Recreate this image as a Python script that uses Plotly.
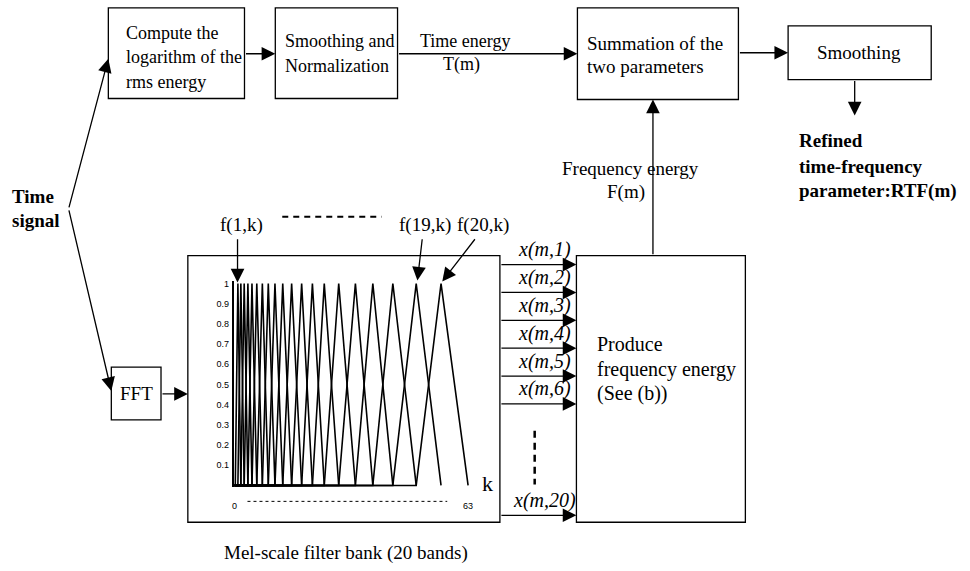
import plotly.graph_objects as go

# ---------------- data ----------------
# Mel filter bank edge frequencies (bin index k); filter i spans edges[i]..edges[i+2], peak at edges[i+1]
filter_edges = [0.2, 0.9, 1.7, 2.6, 3.6, 4.7, 6.0, 7.5, 9.1, 10.9, 13.0, 15.4,
                18.1, 21.0, 24.2, 28.1, 32.6, 37.3, 42.7, 49.0, 55.7, 63.0]
y_tick_vals = [0.1, 0.2, 0.3, 0.4, 0.5, 0.6, 0.7, 0.8, 0.9, 1.0]
y_tick_text = ["0.1", "0.2", "0.3", "0.4", "0.5", "0.6", "0.7", "0.8", "0.9", "1"]
k_tick_vals = [0, 63]
k_tick_text = ["0", "63"]
channel_labels = ["x(m,1)", "x(m,2)", "x(m,3)", "x(m,4)", "x(m,5)", "x(m,6)", "x(m,20)"]

W, H = 970, 571
SERIF = "Liberation Serif"
LW = 1.3

fig = go.Figure()
# anchor trace for the full-canvas axes
fig.add_trace(go.Scatter(x=[None], y=[None], xaxis="x", yaxis="y", showlegend=False, hoverinfo="skip"))

# filter bank triangles
for i in range(20):
    a, p, b = filter_edges[i], filter_edges[i + 1], filter_edges[i + 2]
    fig.add_trace(go.Scatter(x=[0, a, p, b], y=[0, 0, 1, 0], mode="lines",
                             line=dict(color="black", width=1.6), xaxis="x2", yaxis="y2",
                             showlegend=False, hoverinfo="skip"))

shapes = []
def rect(x0, y0, x1, y1):
    shapes.append(dict(type="rect", xref="x", yref="y", x0=x0, y0=y0, x1=x1, y1=y1,
                       line=dict(color="black", width=LW), fillcolor="rgba(0,0,0,0)"))
def line(x0, y0, x1, y1, dash="solid", width=LW):
    shapes.append(dict(type="line", xref="x", yref="y", x0=x0, y0=y0, x1=x1, y1=y1,
                       line=dict(color="black", width=width, dash=dash)))

rect(107, 5, 244, 96)      # log rms
rect(275, 5, 398, 96)      # smoothing & normalization
rect(579, 5, 741, 97)      # summation
rect(791, 23, 935, 77)     # smoothing
rect(110, 366, 160, 419)   # FFT
rect(187, 254, 501, 522)   # filter bank frame
rect(578, 254, 748, 522)   # produce frequency energy

line(282, 215, 382, 215, dash="6px,5px", width=2)   # f(1,k) ... f(19,k)
line(536, 430, 536, 484, dash="7px,5px", width=2.5)  # x(m,7)...x(m,19)
line(247, 501, 448, 501, dash="dot", width=1)        # k axis dotted

annotations = []
def arrow(x0, y0, x1, y1):
    annotations.append(dict(x=x1, y=y1, ax=x0, ay=y0, xref="x", yref="y", axref="x", ayref="y",
                            text="", showarrow=True, arrowhead=2, arrowsize=2.1,
                            arrowwidth=LW, arrowcolor="black", standoff=0))
def text(x, y, s, size=18, anchor="left", bold=False, italic=False):
    if bold:
        s = "<b>" + s + "</b>"
    if italic:
        s = "<i>" + s + "</i>"
    annotations.append(dict(x=x, y=y, xref="x", yref="y", text=s, showarrow=False,
                            xanchor=anchor, yanchor="middle",
                            font=dict(family=SERIF, size=size, color="black")))

# arrows
arrow(67, 207, 107, 56)
arrow(67, 207, 110, 390)
arrow(244, 51, 275, 51)
arrow(398, 51, 579, 51)
arrow(741, 50, 791, 50)
arrow(858, 77, 858, 113)
arrow(655, 254, 655, 97)
arrow(160, 393, 187, 393)
arrow(237, 236, 237, 281)
arrow(423, 236, 418, 279)
arrow(477, 236, 443, 280)
chan_y = [263, 291, 319, 347, 375, 403, 515]
for lab, yy in zip(channel_labels, chan_y):
    arrow(501, yy, 578, yy)
    text(546, yy - 15, lab, size=20, anchor="center", italic=True)

# texts
text(123, 30, "Compute the", 18)
text(123, 54, "logarithm of the", 18)
text(123, 79, "rms energy", 18)
text(283, 38, "Smoothing and", 18)
text(283, 63, "Normalization", 18)
text(466, 38, "Time energy", 18, anchor="center")
text(462, 62, "T(m)", 18, anchor="center")
text(587, 41, "Summation of the", 19)
text(587, 64, "two parameters", 19)
text(862, 50, "Smoothing", 19, anchor="center")
text(800, 138, "Refined", 19, bold=True)
text(800, 164, "time-frequency", 19, bold=True)
text(800, 189, "parameter:RTF(m)", 19, bold=True)
text(632, 166, "Frequency energy", 19, anchor="center")
text(628, 190, "F(m)", 19, anchor="center")
text(8, 195, "Time", 19, bold=True)
text(8, 219, "signal", 19, bold=True)
text(135, 393, "FFT", 19, anchor="center")
text(241, 223, "f(1,k)", 19, anchor="center")
text(426, 223, "f(19,k)", 19, anchor="center")
text(484, 223, "f(20,k)", 19, anchor="center")
text(489, 483, "k", 22, anchor="center")
text(597, 343, "Produce", 20)
text(597, 368, "frequency energy", 20)
text(597, 393, "(See (b))", 20)
text(346, 553, "Mel-scale filter bank (20 bands)", 19, anchor="center")

# filter-bank sub-axes placement (pixel geometry -> paper domain)
kx0_px, kx1_px = 234, 469          # k=0, k=63
yb_px, yt_px = 485, 282            # y=0, y=1
xr = [-0.2, 63.3]
yr = [-0.01, 1.01]
sx = (kx1_px - kx0_px) / 63.0
sy = (yb_px - yt_px) / 1.0
dx0 = (kx0_px + xr[0] * sx) / W
dx1 = (kx0_px + xr[1] * sx) / W
dy0 = (H - (yb_px - yr[0] * sy)) / H
dy1 = (H - (yb_px - yr[1] * sy)) / H

fig.update_layout(
    width=W, height=H, margin=dict(l=0, r=0, t=0, b=0),
    paper_bgcolor="white", plot_bgcolor="rgba(0,0,0,0)",
    showlegend=False,
    xaxis=dict(range=[0, W], domain=[0, 1], visible=False, fixedrange=True),
    yaxis=dict(range=[H, 0], domain=[0, 1], visible=False, fixedrange=True),
    xaxis2=dict(range=xr, domain=[dx0, dx1], anchor="y2", showgrid=False, zeroline=False,
                showline=False, tickmode="array", tickvals=k_tick_vals, ticktext=k_tick_text,
                ticks="", ticklabelstandoff=12,
                tickfont=dict(family="Liberation Sans", size=9, color="black")),
    yaxis2=dict(range=yr, domain=[dy0, dy1], anchor="x2", showgrid=False, zeroline=False,
                showline=True, linecolor="black", linewidth=1.8,
                tickmode="array", tickvals=y_tick_vals, ticktext=y_tick_text,
                ticks="", ticklabelstandoff=1,
                tickfont=dict(family="Liberation Sans", size=9, color="black")),
    shapes=shapes, annotations=annotations,
)

fig.write_html("out.html")
